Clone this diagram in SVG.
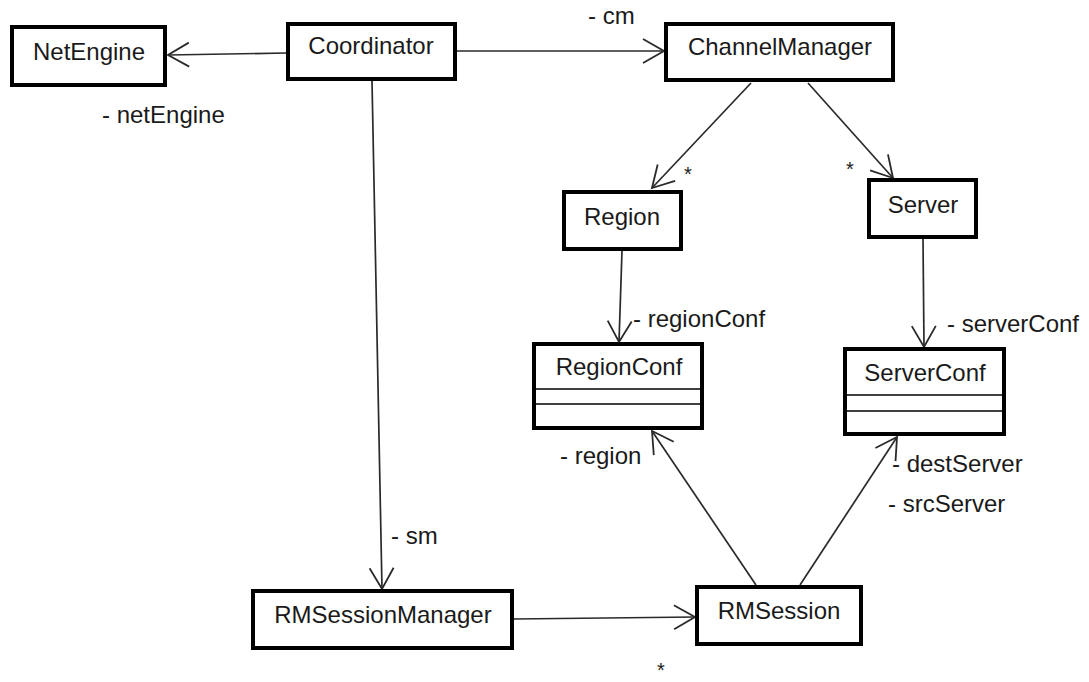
<svg xmlns="http://www.w3.org/2000/svg" width="1089" height="682" viewBox="0 0 1089 682">
  <style>
    .box { fill: #ffffff; stroke: #000000; stroke-width: 4; }
    .div { stroke: #000000; stroke-width: 1.6; }
    .lbl { font-family: "Liberation Sans", Arial, sans-serif; font-size: 24px; fill: #1a1a1a; }
    .name { text-anchor: middle; }
    .mid { text-anchor: middle; }
    .star { font-size: 20px; }
    .edge { fill: none; stroke: #2a2a2a; stroke-width: 1.7; marker-end: url(#open); }
  </style>
  <defs>
    <!-- open V arrowhead used by every association -->
    <marker id="open" markerUnits="userSpaceOnUse" markerWidth="30" markerHeight="30" viewBox="-24 -15 28 30" refX="0" refY="0" orient="auto" overflow="visible">
      <path d="M -21,-12 L 0,0 L -21,12" fill="none" stroke="#2a2a2a" stroke-width="1.8"/>
    </marker>
  </defs>

  <rect width="1089" height="682" fill="#ffffff"/>

  <g id="connectors">
    <line class="edge" x1="286" y1="53" x2="168" y2="55"/>
    <line class="edge" x1="457" y1="51" x2="664" y2="51"/>
    <line class="edge" x1="372" y1="81" x2="382" y2="589"/>
    <line class="edge" x1="751" y1="83" x2="652" y2="188"/>
    <line class="edge" x1="808" y1="83" x2="893" y2="178"/>
    <line class="edge" x1="622" y1="251" x2="619" y2="342"/>
    <line class="edge" x1="923" y1="239" x2="924" y2="347"/>
    <line class="edge" x1="514" y1="619" x2="695" y2="617"/>
    <line class="edge" x1="756" y1="585" x2="652" y2="431"/>
    <line class="edge" x1="800" y1="585" x2="897" y2="437"/>

    <text class="lbl" x="102" y="123">- netEngine</text>
    <text class="lbl" x="588" y="24">- cm</text>
    <text class="lbl" x="391" y="544">- sm</text>
    <text class="lbl mid star" x="688" y="181">*</text>
    <text class="lbl mid star" x="850" y="176">*</text>
    <text class="lbl" x="633" y="327">- regionConf</text>
    <text class="lbl" x="947" y="332">- serverConf</text>
    <text class="lbl" x="560" y="464">- region</text>
    <text class="lbl" x="892" y="472">- destServer</text>
    <text class="lbl" x="888" y="512">- srcServer</text>
    <text class="lbl mid star" x="661" y="677">*</text>
  </g>

  <g id="NetEngine">
    <rect class="box" x="12" y="27" width="153" height="58"/>
    <text class="lbl name" x="89" y="60">NetEngine</text>
  </g>

  <g id="Coordinator">
    <rect class="box" x="288" y="24" width="167" height="55"/>
    <text class="lbl name" x="371" y="54">Coordinator</text>
  </g>

  <g id="ChannelManager">
    <rect class="box" x="666" y="24" width="227" height="56"/>
    <text class="lbl name" x="780" y="55">ChannelManager</text>
  </g>

  <g id="Region">
    <rect class="box" x="564" y="192" width="117" height="57"/>
    <text class="lbl name" x="622" y="225">Region</text>
  </g>

  <g id="Server">
    <rect class="box" x="869" y="180" width="107" height="57"/>
    <text class="lbl name" x="923" y="213">Server</text>
  </g>

  <g id="RegionConf">
    <rect class="box" x="534" y="344" width="168" height="84"/>
    <line class="div" x1="534" y1="389" x2="702" y2="389"/>
    <line class="div" x1="534" y1="404" x2="702" y2="404"/>
    <text class="lbl name" x="619" y="375">RegionConf</text>
  </g>

  <g id="ServerConf">
    <rect class="box" x="845" y="349" width="159" height="85"/>
    <line class="div" x1="845" y1="395" x2="1004" y2="395"/>
    <line class="div" x1="845" y1="411" x2="1004" y2="411"/>
    <text class="lbl name" x="925" y="381">ServerConf</text>
  </g>

  <g id="RMSessionManager">
    <rect class="box" x="253" y="591" width="259" height="57"/>
    <text class="lbl name" x="383" y="623">RMSessionManager</text>
  </g>

  <g id="RMSession">
    <rect class="box" x="697" y="587" width="164" height="57"/>
    <text class="lbl name" x="779" y="619">RMSession</text>
  </g>
</svg>
